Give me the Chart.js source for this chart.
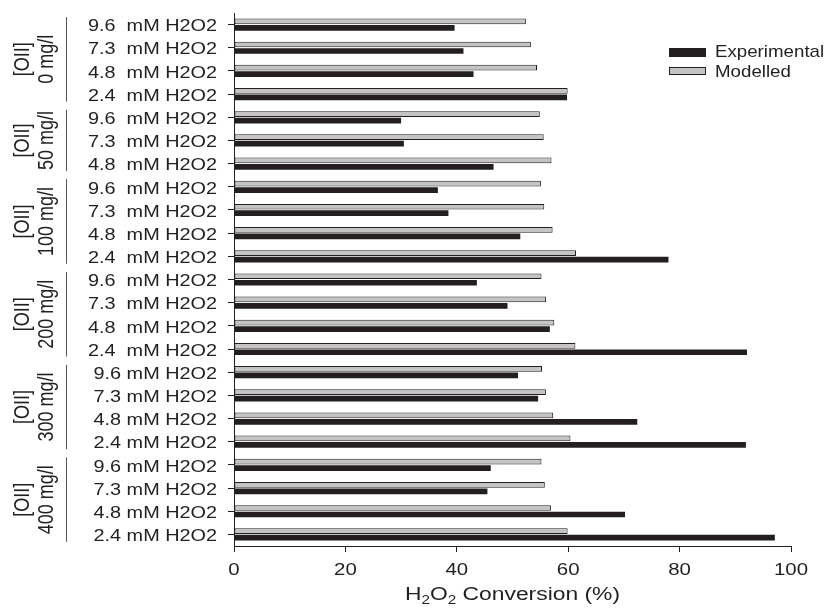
<!DOCTYPE html>
<html>
<head>
<meta charset="utf-8">
<script src="https://cdn.jsdelivr.net/npm/chart.js@4.4.1/dist/chart.umd.min.js"></script>
<style>
  html, body { margin: 0; padding: 0; background: #fff; }
  canvas { display: block; }
</style>
</head>
<body>
<canvas id="chartConversion" width="828" height="611"></canvas>
<script>
// Categorías (de arriba hacia abajo)
const categories = [
    '9.6  mM H2O2', '7.3  mM H2O2', '4.8  mM H2O2', '2.4  mM H2O2',
    '9.6  mM H2O2', '7.3  mM H2O2', '4.8  mM H2O2',
    '9.6  mM H2O2', '7.3  mM H2O2', '4.8  mM H2O2', '2.4  mM H2O2',
    '9.6  mM H2O2', '7.3  mM H2O2', '4.8  mM H2O2', '2.4  mM H2O2',
    '9.6 mM H2O2', '7.3 mM H2O2', '4.8 mM H2O2', '2.4 mM H2O2',
    '9.6 mM H2O2', '7.3 mM H2O2', '4.8 mM H2O2', '2.4 mM H2O2'
];

// Grupos de concentración [OII]
const groupNames = ['0 mg/l', '50 mg/l', '100 mg/l', '200 mg/l', '300 mg/l', '400 mg/l'];
const groupSizes = [4, 3, 4, 4, 4, 4];

// Conversión de H2O2 (%)
const experimental = [39.6, 41.2, 43.0, 59.8, 30.0, 30.5, 46.6, 36.6, 38.5, 51.4, 78.0,
    43.6, 49.1, 56.7, 92.1, 51.0, 54.6, 72.4, 91.9, 46.1, 45.5, 70.2, 97.1];
const modelled = [52.4, 53.3, 54.4, 59.9, 54.9, 55.6, 57.0, 55.1, 55.7, 57.2, 61.4,
    55.2, 56.0, 57.5, 61.3, 55.3, 56.0, 57.3, 60.4, 55.2, 55.8, 56.9, 59.9];

const xTicks = [0, 20, 40, 60, 80, 100];

const INK = '#231f20';
const GREY = '#c4c4c4';
const FONT = '"Liberation Sans", Arial, sans-serif';

/**
 * Texto estirado horizontalmente (la figura original está ensanchada)
 */
function textoEstirado(ctx, text, px, py, align, size, sx) {
    ctx.save();
    ctx.font = size + 'px ' + FONT;
    const w = ctx.measureText(text).width * sx;
    const left = align === 'right' ? px - w : (align === 'center' ? px - w / 2 : px);
    ctx.translate(left, py);
    ctx.scale(sx, 1);
    ctx.textAlign = 'left';
    ctx.textBaseline = 'alphabetic';
    ctx.fillText(text, 0, 0);
    ctx.restore();
}

function textoVertical(ctx, text, px, py, size, sy) {
    ctx.save();
    ctx.font = size + 'px ' + FONT;
    ctx.translate(px, py);
    ctx.rotate(-Math.PI / 2);
    ctx.scale(1, sy);
    ctx.textAlign = 'center';
    ctx.textBaseline = 'alphabetic';
    ctx.fillText(text, 0, 0);
    ctx.restore();
}

const anotaciones = {
    id: 'anotaciones',
    afterDraw(chart) {
        const { ctx, chartArea, scales: { x, y } } = chart;
        ctx.save();
        ctx.fillStyle = INK;

        // etiquetas del eje y
        categories.forEach((lab, i) => {
            textoEstirado(ctx, lab, chartArea.left - 17, y.getPixelForValue(i) + 6.7, 'right', 16, 1.24);
        });

        // etiquetas del eje x
        xTicks.forEach(v => {
            textoEstirado(ctx, String(v), x.getPixelForValue(v), chartArea.bottom + 28.5, 'center', 17, 1.2);
        });

        // título del eje x con subíndices
        const partes = [
            { t: 'H', s: 18, dy: 0 }, { t: '2', s: 12, dy: 4 },
            { t: 'O', s: 18, dy: 0 }, { t: '2', s: 12, dy: 4 },
            { t: ' Conversion (%)', s: 18, dy: 0 }
        ];
        const sx = 1.27;
        let total = 0;
        partes.forEach(p => { ctx.font = p.s + 'px ' + FONT; p.w = ctx.measureText(p.t).width * sx; total += p.w; });
        let cx = (chartArea.left + chartArea.right) / 2 - total / 2;
        partes.forEach(p => {
            textoEstirado(ctx, p.t, cx, chartArea.bottom + 54 + p.dy, 'left', p.s, sx);
            cx += p.w;
        });

        // grupos [OII]
        let idx = 0;
        ctx.strokeStyle = '#555';
        ctx.lineWidth = 1;
        groupNames.forEach((g, k) => {
            const y0 = y.getPixelForValue(idx) - 7.5;
            const y1 = y.getPixelForValue(idx + groupSizes[k] - 1) + 7.5;
            ctx.beginPath();
            ctx.moveTo(66.5, y0);
            ctx.lineTo(66.5, y1);
            ctx.stroke();
            const mid = (y0 + y1) / 2;
            textoVertical(ctx, '[OII]', 29, mid, 18, 1.22);
            textoVertical(ctx, g, 53, mid, 18, 1.22);
            idx += groupSizes[k];
        });

        // leyenda
        const lx = 669;
        ctx.fillStyle = INK;
        ctx.fillRect(lx, 48, 37, 9);
        ctx.fillStyle = GREY;
        ctx.fillRect(lx, 67, 37, 8);
        ctx.strokeStyle = INK;
        ctx.strokeRect(lx + 0.5, 67.5, 36, 7);
        ctx.fillStyle = INK;
        textoEstirado(ctx, 'Experimental', 715, 57, 'left', 17, 1.1);
        textoEstirado(ctx, 'Modelled', 715, 76.5, 'left', 17, 1.1);

        ctx.restore();
    }
};

const ctx = document.getElementById('chartConversion').getContext('2d');

new Chart(ctx, {
    type: 'bar',
    data: {
        labels: categories,
        datasets: [{
            label: 'Modelled',
            data: modelled,
            backgroundColor: GREY,
            borderColor: INK,
            borderWidth: 1,
            borderSkipped: false,
            categoryPercentage: 0.56,
            barPercentage: 0.88
        }, {
            label: 'Experimental',
            data: experimental,
            backgroundColor: INK,
            borderWidth: 0,
            categoryPercentage: 0.56,
            barPercentage: 0.88
        }]
    },
    options: {
        indexAxis: 'y',
        responsive: false,
        animation: false,
        layout: {
            padding: { top: 13, right: 37, left: 0, bottom: 0 }
        },
        plugins: {
            legend: { display: false },
            tooltip: { enabled: false }
        },
        scales: {
            x: {
                min: 0,
                max: 100,
                ticks: { stepSize: 20, display: false },
                grid: { drawOnChartArea: false, drawTicks: true, tickLength: 6, color: INK },
                border: { color: INK, width: 1 },
                afterFit: s => { s.height = 65; }
            },
            y: {
                ticks: { display: false },
                grid: { offset: false, drawOnChartArea: false, drawTicks: true, tickLength: 6, color: INK },
                border: { color: INK, width: 1 },
                afterFit: s => { s.width = 234; }
            }
        }
    },
    plugins: [anotaciones]
});
</script>
</body>
</html>
